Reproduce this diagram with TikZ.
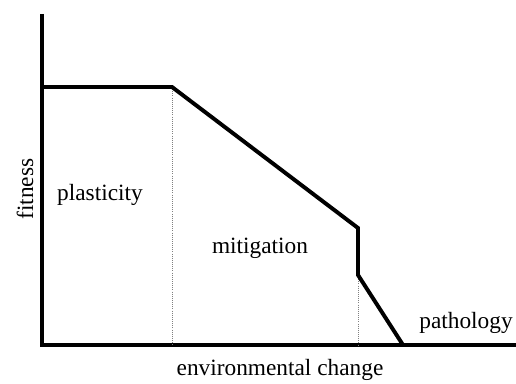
\documentclass[tikz,border=0pt]{standalone}
\usepackage{fontspec}
\setmainfont{Liberation Serif}
\begin{document}
\begin{tikzpicture}[
		axis/.style={line width=2.3pt},
		curve/.style={line width=2.8pt,line join=miter},
		guide/.style={densely dotted,gray,line width=0.5pt},
		lbl/.style={anchor=base,inner sep=0pt,font=\fontsize{16.6}{19}\selectfont}]
		\useasboundingbox (0,0) rectangle (12.9,9.575);
		% axes
		\coordinate (O) at (1.05,0.95);
		\coordinate (ytop) at (1.05,9.225);
		\coordinate (xend) at (12.9,0.95);
		\draw[axis] (ytop)--(O)--(xend);
		% fitness curve
		\coordinate (start) at (1.05,7.4);
		\coordinate (knee) at (4.3,7.4);
		\coordinate (drop) at (8.95,3.875);
		\coordinate (foot) at (8.95,2.7);
		\coordinate (zero) at (10.075,0.95);
		\draw[guide] (knee)--(knee|-O);
		\draw[guide] (foot)--(foot|-O);
		\draw[curve] (start)--(knee)--(drop)--(foot)--(zero);
		% labels
		\node[lbl,rotate=90] (fit) at (0.825,4.85) {fitness};
		\node[lbl] (env) at (7.0,0.2) {environmental change};
		\node[lbl] (plast) at (2.5,4.575) {plasticity};
		\node[lbl] (mitig) at (6.5,3.25) {mitigation};
		\node[lbl] (path) at (11.65,1.375) {pathology};
	\end{tikzpicture}
\end{document}
